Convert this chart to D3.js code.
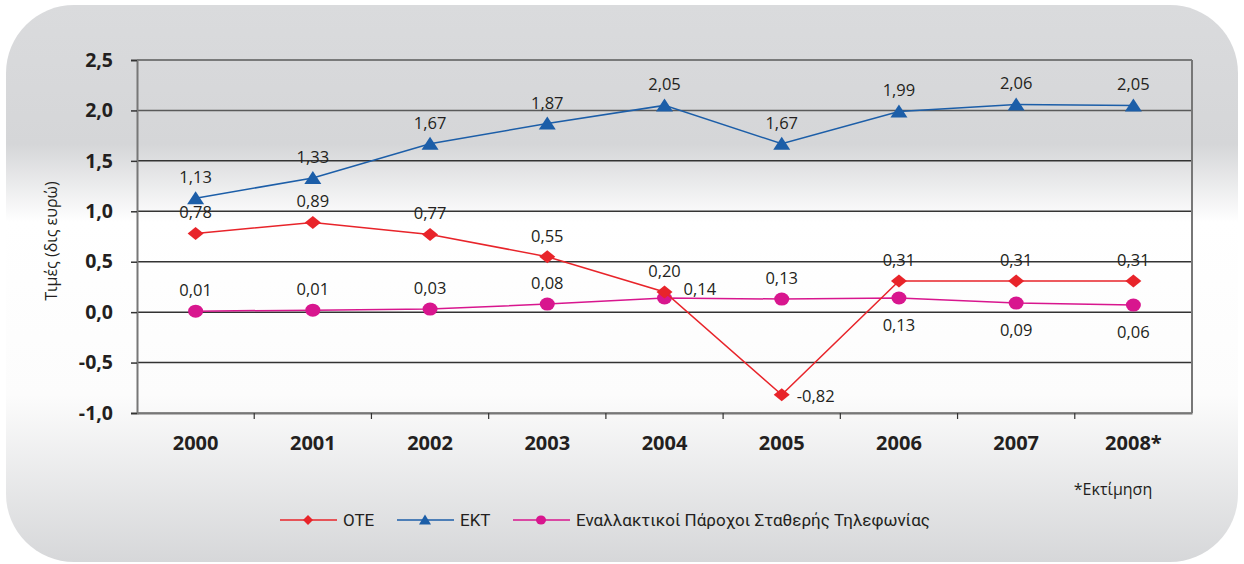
<!DOCTYPE html>
<html>
<head>
<meta charset="utf-8">
<script src="https://cdn.jsdelivr.net/npm/d3@7"></script>
<style>
html,body{margin:0;padding:0;background:#ffffff;}
svg{display:block;}
</style>
</head>
<body>
<svg id="chart" width="1244" height="564"></svg>
<script>
const years = ["2000","2001","2002","2003","2004","2005","2006","2007","2008*"];
const oteValues = [0.78, 0.89, 0.77, 0.55, 0.20, -0.82, 0.31, 0.31, 0.31];
const ektValues = [1.13, 1.33, 1.67, 1.87, 2.05, 1.67, 1.99, 2.06, 2.05];
const altValues = [0.01, 0.02, 0.03, 0.08, 0.14, 0.13, 0.14, 0.09, 0.07];
const altLabels = ["0,01","0,01","0,03","0,08","0,14","0,13","0,13","0,09","0,06"];
const otePlacement = ["above","above","above","above","above","right","above","above","above"];
const altPlacement = ["above","above","above","above","right","above","below","below","below"];
const yTicks = [-1.0, -0.5, 0.0, 0.5, 1.0, 1.5, 2.0, 2.5];
const seriesNames = ["OTE", "EKT", "Εναλλακτικοί Πάροχοι Σταθερής Τηλεφωνίας"];
const seriesColors = ["#e8242a", "#1c5ea8", "#d8168e"];
const yTitle = "Τιμές (δις ευρώ)";
const footnote = "*Εκτίμηση";

(function(){
const svg = d3.select("#chart");
const fmt = v => d3.format(".2f")(v).replace(".", ",").replace("−","-");
const fmtTick = v => d3.format(".1f")(v).replace(".", ",").replace("−","-");

// background
const defs = svg.append("defs");
const grad = defs.append("linearGradient").attr("id","bg").attr("x1",0).attr("y1",0).attr("x2",0).attr("y2",1);
[[0,"#dadbdd"],[0.25,"#d5d6d8"],[0.39,"#ffffff"],[0.7,"#fcfcfc"],[1,"#d6d7d9"]].forEach(s=>{
  grad.append("stop").attr("offset",s[0]).attr("stop-color",s[1]);
});
svg.append("rect").attr("x",6).attr("y",5).attr("width",1232).attr("height",557)
  .attr("rx",68).attr("ry",68).attr("fill","url(#bg)");

const pLeft = 137, pRight = 1192, pTop = 60, pBottom = 413;
const x = d3.scaleBand().domain(years).range([pLeft,pRight]);
const y = d3.scaleLinear().domain([-1,2.5]).range([pBottom,pTop]);

const font = "'Open Sans', 'DejaVu Sans', sans-serif";

// gridlines
svg.append("g").selectAll("line").data(yTicks).join("line")
  .attr("x1",pLeft).attr("x2",pRight)
  .attr("y1",d=>y(d)).attr("y2",d=>y(d))
  .attr("stroke",d=> (d===-1? "#777" : (d>=2 ? "#5a5a5a" : "#333"))).attr("stroke-width",1.5);

// y axis
const yAxis = svg.append("g").attr("transform",`translate(${pLeft},0)`)
  .call(d3.axisLeft(y).tickValues(yTicks).tickSize(6).tickPadding(18).tickFormat(fmtTick));
yAxis.select(".domain").attr("stroke","#777").attr("stroke-width",2);
yAxis.selectAll(".tick line").attr("stroke","#333").attr("stroke-width",1.5);
yAxis.selectAll("text").attr("font-family",font).attr("font-weight","bold")
  .attr("font-size",19.5).attr("fill","#231f20");

// x axis
const xAxis = svg.append("g").attr("transform",`translate(0,${pBottom})`)
  .call(d3.axisBottom(x).tickSize(0).tickPadding(23));
xAxis.select(".domain").attr("stroke","#777").attr("stroke-width",2);
xAxis.selectAll("text").attr("font-family",font).attr("font-weight","bold")
  .attr("font-size",20).attr("fill","#231f20");
// ticks between categories
svg.append("g").selectAll("line").data(years.slice(1)).join("line")
  .attr("x1",d=>x(d)).attr("x2",d=>x(d)).attr("y1",pBottom).attr("y2",pBottom+6)
  .attr("stroke","#333").attr("stroke-width",1.2);

// right border
svg.append("line").attr("x1",pRight).attr("x2",pRight).attr("y1",pTop).attr("y2",pBottom)
  .attr("stroke","#777").attr("stroke-width",2);

// y title
svg.append("text").attr("transform",`translate(57,241) rotate(-90)`)
  .attr("text-anchor","middle").attr("font-family",font).attr("font-size",16)
  .attr("fill","#231f20").text(yTitle);

const cx = d => x(d) + x.bandwidth()/2;
const line = d3.line().x((d,i)=>cx(years[i])).y(d=>y(d));

const diamond = "M0,-6.5L8,0L0,6.5L-8,0Z";
const triangle = "M0,-7L8.5,6L-8.5,6Z";

function drawSeries(values, color, shape){
  const g = svg.append("g");
  g.append("path").datum(values).attr("d",line).attr("fill","none")
    .attr("stroke",color).attr("stroke-width",1.5);
  if(shape==="circle"){
    g.selectAll("ellipse").data(values).join("ellipse")
      .attr("cx",(d,i)=>cx(years[i])).attr("cy",d=>y(d)).attr("rx",7.5).attr("ry",6.5)
      .attr("fill",color);
  } else {
    g.selectAll("path.m").data(values).join("path").attr("class","m")
      .attr("d",shape).attr("transform",(d,i)=>`translate(${cx(years[i])},${y(d)})`)
      .attr("fill",color);
  }
}

drawSeries(altValues, seriesColors[2], "circle");
drawSeries(oteValues, seriesColors[0], diamond);
drawSeries(ektValues, seriesColors[1], triangle);

function labels(values, texts, placement, rightGap){
  svg.append("g").selectAll("text").data(values).join("text")
    .attr("font-family",font).attr("font-size",16.5).attr("fill","#231f20")
    .attr("text-anchor",(d,i)=>placement[i]==="right"?"start":"middle")
    .attr("x",(d,i)=>cx(years[i]) + (placement[i]==="right"?rightGap:0))
    .attr("y",(d,i)=>{
      const p = placement[i];
      if(p==="above") return y(d)-15;
      if(p==="below") return y(d)+33;
      return y(d)+ (d<0?7:-3);
    })
    .text((d,i)=>texts[i]);
}
labels(ektValues, ektValues.map(fmt), years.map(()=>"above"), 15);
labels(oteValues, oteValues.map(fmt), otePlacement, 15);
labels(altValues, altLabels, altPlacement, 19);

// footnote
svg.append("text").attr("x",1113).attr("y",495).attr("text-anchor","middle")
  .attr("font-family",font).attr("font-size",16).attr("fill","#231f20").text(footnote);

// legend
const legendX = [280, 397, 513];
const lg = svg.append("g");
seriesNames.forEach((n,i)=>{
  const x0 = legendX[i], ly = 520;
  lg.append("line").attr("x1",x0).attr("x2",x0+57).attr("y1",ly).attr("y2",ly)
    .attr("stroke",seriesColors[i]).attr("stroke-width",1.5);
  const mx = x0+28;
  if(i===2){
    lg.append("ellipse").attr("cx",mx).attr("cy",ly).attr("rx",5).attr("ry",4.5).attr("fill",seriesColors[i]);
  } else if(i===0){
    lg.append("path").attr("d","M0,-5L5,0L0,5L-5,0Z").attr("transform",`translate(${mx},${ly})`).attr("fill",seriesColors[i]);
  } else {
    lg.append("path").attr("d","M0,-5.5L6,4.5L-6,4.5Z").attr("transform",`translate(${mx},${ly})`).attr("fill",seriesColors[i]);
  }
  lg.append("text").attr("x",x0+63).attr("y",ly+6).attr("font-family","'Roboto', sans-serif")
    .attr("font-size",17).attr("fill","#231f20").text(n);
});
})();
</script>
</body>
</html>
